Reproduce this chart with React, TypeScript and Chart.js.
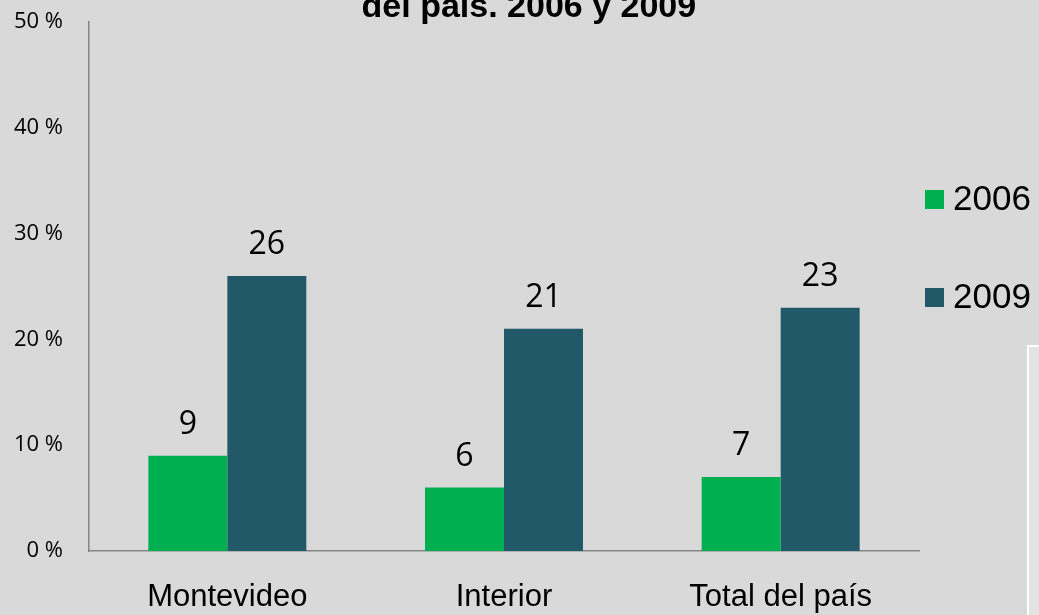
import React, { useEffect, useRef } from "react";
import { Chart, registerables } from "chart.js";

Chart.register(...registerables);

const categories = ["Montevideo", "Interior", "Total del país"];
const values2006 = [9, 6, 7];
const values2009 = [26, 21, 23];
const seriesLabels = ["2006", "2009"];
const yTicks = [0, 10, 20, 30, 40, 50];
const titleText = "del país. 2006 y 2009";

const COLORS = ["#00b050", "#215968"];
const BG = "#d9d9d9";

const bgPlugin = {
  id: "bgPlugin",
  beforeDraw(chart: any) {
    const { ctx, width, height } = chart;
    ctx.save();
    ctx.fillStyle = BG;
    ctx.fillRect(0, 0, width, height);
    ctx.restore();
  },
};

const decorPlugin = {
  id: "decorPlugin",
  afterDraw(chart: any) {
    const { ctx, width, height, chartArea } = chart;
    ctx.save();
    // title (first line cut off at the top)
    ctx.fillStyle = "#000";
    ctx.font = "bold 34px 'Liberation Sans', Arial, sans-serif";
    ctx.textAlign = "center";
    ctx.textBaseline = "alphabetic";
    ctx.fillText(titleText, width * 0.509, 17);

    // legend
    const lx = chartArea.right + 6;
    const centers = [199.5, 297.5];
    seriesLabels.forEach((lab, i) => {
      ctx.fillStyle = COLORS[i];
      ctx.fillRect(lx, centers[i] - 9.5, 19, 19);
      ctx.fillStyle = "#000";
      ctx.font = "35px 'Liberation Sans', Arial, sans-serif";
      ctx.textAlign = "left";
      ctx.textBaseline = "middle";
      ctx.fillText(lab, lx + 28, centers[i] + 1);
    });

    // decorative box at bottom right
    ctx.fillStyle = "#ffffff";
    ctx.fillRect(width - 12, 345, 12, height - 345);
    ctx.fillStyle = "#e3e3e3";
    ctx.fillRect(width - 10, 347, 10, height - 347);

    // data labels
    ctx.fillStyle = "#000";
    ctx.font = "32px 'Open Sans', sans-serif";
    ctx.textAlign = "center";
    ctx.textBaseline = "alphabetic";
    chart.data.datasets.forEach((ds: any, di: number) => {
      const meta = chart.getDatasetMeta(di);
      meta.data.forEach((bar: any, i: number) => {
        ctx.fillText(String(ds.data[i]), bar.x, bar.y - 21.5);
      });
    });
    ctx.restore();
  },
};

export default function App() {
  const ref = useRef<HTMLCanvasElement>(null);
  useEffect(() => {
    document.body.style.margin = "0";
    const chart = new Chart(ref.current!, {
      type: "bar",
      data: {
        labels: categories,
        datasets: [
          { label: seriesLabels[0], data: values2006, backgroundColor: COLORS[0] },
          { label: seriesLabels[1], data: values2009, backgroundColor: COLORS[1] },
        ],
      },
      plugins: [bgPlugin, decorPlugin],
      options: {
        animation: false,
        responsive: false,
        maintainAspectRatio: false,
        devicePixelRatio: 1,
        layout: { padding: { top: 22, right: 120, left: 0, bottom: 0 } },
        datasets: {
          bar: { categoryPercentage: 0.571, barPercentage: 1.0 },
        },
        plugins: {
          legend: { display: false },
          title: { display: false },
          tooltip: { enabled: false },
        },
        scales: {
          x: {
            grid: { display: false, drawTicks: false },
            border: { display: true, color: "#868686", width: 1.5 },
            ticks: {
              color: "#000",
              font: { family: "'Liberation Sans', Arial, sans-serif", size: 31 },
              padding: 28,
              maxRotation: 0,
            },
            afterFit(scale: any) {
              scale.height = 64;
              scale.paddingLeft = 0;
              scale.paddingRight = 0;
            },
          },
          y: {
            min: 0,
            max: 50,
            afterBuildTicks(scale: any) {
              scale.ticks = yTicks.map((v) => ({ value: v }));
            },
            grid: { display: false, drawTicks: false },
            border: { display: true, color: "#868686", width: 1.5 },
            ticks: {
              color: "#000",
              font: { family: "'Open Sans', sans-serif", size: 22 },
              padding: 26,
              callback: (v: any) => `${v} %`,
            },
            afterFit(scale: any) {
              scale.width = 89;
              scale.paddingTop = 0;
              scale.paddingBottom = 0;
            },
          },
        },
      },
    });
    return () => chart.destroy();
  }, []);
  return (
    <div style={{ width: 1039, height: 615, background: BG }}>
      <canvas ref={ref} width={1039} height={615} style={{ display: "block" }} />
    </div>
  );
}
